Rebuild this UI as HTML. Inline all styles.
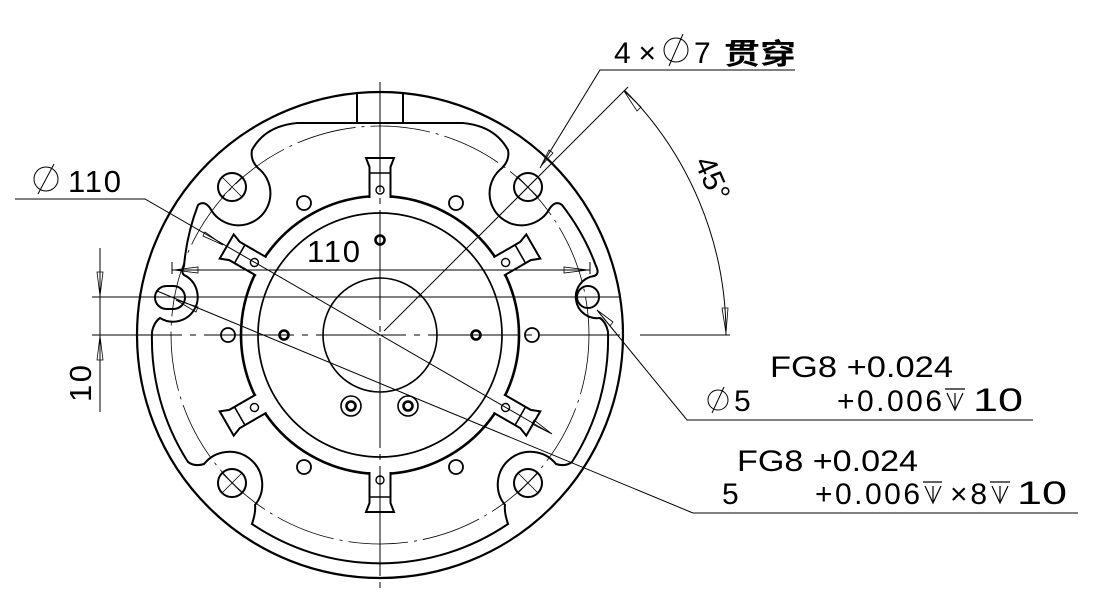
<!DOCTYPE html>
<html><head><meta charset="utf-8"><style>
html,body{margin:0;padding:0;background:#fff;}
svg{display:block;}
text{font-family:"Liberation Sans","Noto Sans CJK SC",sans-serif;fill:#000;}
</style></head><body>
<svg width="1097" height="596" viewBox="0 0 1097 596" xmlns="http://www.w3.org/2000/svg">
<defs>
<g id="spoke" fill="none" stroke="#000">
  <path d="M-10.5,-137 L-10.5,-168 L-14,-177 L14,-177 L10.5,-168 L10.5,-137" stroke-width="2"/>
  <line x1="-10.5" y1="-162" x2="10.5" y2="-162" stroke-width="1.6"/>
  <circle cx="0" cy="-145" r="4" stroke-width="1.4"/>
</g>
<g id="bighole" fill="none" stroke="#000">
  <circle r="14" stroke-width="2"/>
  <line x1="-10" y1="-10" x2="10" y2="10" stroke-width="0.8"/>
  <line x1="-10" y1="10" x2="10" y2="-10" stroke-width="0.8"/>
</g>
</defs>
<g fill="none" stroke="#000">
<circle cx="380" cy="335" r="243" stroke-width="2.2"/>
<line x1="357" y1="93" x2="357" y2="123" stroke-width="2"/>
<line x1="403" y1="93" x2="403" y2="123" stroke-width="2"/>
<path stroke-width="2" d="M297,123 L463,123 Q495,126 508,150 Q510,160 502,168 A32,32 0 1 0 550,208 Q556,200 562,205 A226,226 0 0 1 596,266 Q600,274 594,276 A21,21 0 1 0 600,318 Q606,322 608,332 A228,228 0 0 1 572,462 Q565,467 556,464 A32,32 0 1 0 505,505 Q504,512 508,524 A228,228 0 0 1 252,524 Q256,512 255,505 A32,32 0 1 0 204,464 Q195,467 188,462 A228,228 0 0 1 152,332 Q154,322 160,318 A21,21 0 1 0 186,276 Q180,274 184,266 A226,226 0 0 1 198,205 Q204,200 210,208 A32,32 0 1 0 258,168 Q250,160 252,150 Q265,126 297,123 Z"/>
<circle cx="380" cy="335" r="209" stroke-width="0.8" stroke-dasharray="60 6 3 6"/>
<circle cx="380" cy="335" r="139" stroke-width="2.6" stroke-dasharray="124.57 21" stroke-dashoffset="62.28"/>
<circle cx="380" cy="335" r="122" stroke-width="1.7"/>
<circle cx="380" cy="335" r="57" stroke-width="1.6"/>
<g transform="translate(380,335)">
<use href="#spoke"/>
<use href="#spoke" transform="rotate(60)"/>
<use href="#spoke" transform="rotate(120)"/>
<use href="#spoke" transform="rotate(180)"/>
<use href="#spoke" transform="rotate(240)"/>
<use href="#spoke" transform="rotate(300)"/>
</g>
<use href="#bighole" transform="translate(528,187)"/>
<use href="#bighole" transform="translate(232,187)"/>
<use href="#bighole" transform="translate(232,483)"/>
<use href="#bighole" transform="translate(528,483)"/>
<circle cx="588" cy="297" r="11" stroke-width="2"/>
<rect x="155" y="286" width="30" height="23" rx="11.5" stroke-width="2"/>
<g stroke-width="1.8">
<circle cx="532" cy="335" r="7"/><circle cx="228" cy="335" r="7"/>
<circle cx="456" cy="203" r="7"/><circle cx="304" cy="203" r="7"/>
<circle cx="456" cy="467" r="7"/><circle cx="304" cy="467" r="7"/>
</g>
<g stroke-width="2.6">
<circle cx="380" cy="240" r="4.5"/><circle cx="284" cy="335" r="4.5"/><circle cx="476" cy="335" r="4.5"/>
<circle cx="351" cy="406" r="4.5"/><circle cx="408" cy="406" r="4.5"/>
</g>
<circle cx="351" cy="406" r="10" stroke-width="1.6"/><circle cx="408" cy="406" r="10" stroke-width="1.6"/>

<g stroke-width="1">
<line x1="92" y1="335" x2="620" y2="335" stroke-dasharray="90 8 6 8"/>
<line x1="640" y1="335" x2="730" y2="335"/>
<line x1="92" y1="297" x2="620" y2="297"/>
<line x1="380" y1="82" x2="380" y2="588" stroke-dasharray="110 6 6 6"/>
<line x1="384" y1="331" x2="628" y2="87"/>
</g>
<path d="M624.7,90.3 A346,346 0 0 1 726,335" stroke-width="1"/>
<polygon points="624,91 641,107 637,111" stroke-width="0.8"/>
<polygon points="726,333 722,308 728,308" stroke-width="0.8"/>

<g stroke-width="1">
<polyline points="15,199 145,199 550,433"/>
<polygon points="223,245 203,236 205,232" stroke-width="0.8"/>
<polygon points="552,434 532,424 534,420" stroke-width="0.8"/>
<polyline points="795,70 600,70 540,168"/>
<polygon points="541,166 549,150 553,153" stroke-width="0.8"/>
<polyline points="1033,420 687,420 597,310"/>
<polygon points="597,310 613,322 610,326" stroke-width="0.8"/>
<polyline points="1078,513 693,513 157,291"/>
<polygon points="176,300 198,307 196,312" stroke-width="0.8"/>
<line x1="172" y1="270" x2="590" y2="270"/>
<line x1="172" y1="262" x2="172" y2="274"/>
<line x1="590" y1="262" x2="590" y2="274"/>
<polygon points="174,270 198,267 198,273" stroke-width="0.8"/>
<polygon points="588,270 564,267 564,273" stroke-width="0.8"/>
<line x1="100" y1="248" x2="100" y2="412"/>
<line x1="92" y1="297" x2="120" y2="297"/>
<line x1="92" y1="335" x2="120" y2="335"/>
<polygon points="100,296 97,272 103,272" stroke-width="0.8"/>
<polygon points="100,336 97,360 103,360" stroke-width="0.8"/>
</g>

<g stroke-width="1">
<circle cx="46" cy="179" r="12"/><line x1="38" y1="194" x2="54" y2="164"/>
<circle cx="676" cy="50" r="12"/><line x1="669" y1="66" x2="683" y2="34"/>
<circle cx="718" cy="400" r="10"/><line x1="712" y1="413" x2="724" y2="387"/>
</g>
<g stroke-width="1.2">
<path d="M945,389 L965,389 M947,393 L955,410 L963,393 M955,393 L955,410"/>
<path d="M923,482 L942,482 M925,486 L933,503 L941,486 M933,486 L933,503"/>
<path d="M990,482 L1010,482 M992,486 L1000,503 L1008,486 M1000,486 L1000,503"/>
</g>
</g>

<text x="68" y="192" font-size="31" textLength="53" lengthAdjust="spacing">110</text>
<text x="614" y="63" font-size="30" textLength="42" lengthAdjust="spacing">4×</text>
<text x="694" y="63" font-size="30">7</text>
<text x="724" y="64" font-size="29" font-weight="bold" textLength="72" lengthAdjust="spacingAndGlyphs">贯穿</text>
<text x="307" y="262" font-size="31" textLength="53" lengthAdjust="spacing">110</text>
<text transform="translate(694,162) rotate(66)" font-size="30">45°</text>
<text transform="translate(91,402) rotate(-90)" font-size="31" textLength="37" lengthAdjust="spacing">10</text>
<text x="770" y="377" font-size="30" textLength="183" lengthAdjust="spacingAndGlyphs">FG8 +0.024</text>
<text x="734" y="411" font-size="30">5</text>
<text x="837" y="411" font-size="30" textLength="105" lengthAdjust="spacing">+0.006</text>
<text x="973" y="411" font-size="32" textLength="50" lengthAdjust="spacingAndGlyphs">10</text>
<text x="737" y="471" font-size="30" textLength="181" lengthAdjust="spacingAndGlyphs">FG8 +0.024</text>
<text x="722" y="504" font-size="30">5</text>
<text x="815" y="504" font-size="30" textLength="105" lengthAdjust="spacing">+0.006</text>
<text x="950" y="504" font-size="30" textLength="37" lengthAdjust="spacing">×8</text>
<text x="1017" y="504" font-size="32" textLength="50" lengthAdjust="spacingAndGlyphs">10</text>
</svg>
</body></html>
